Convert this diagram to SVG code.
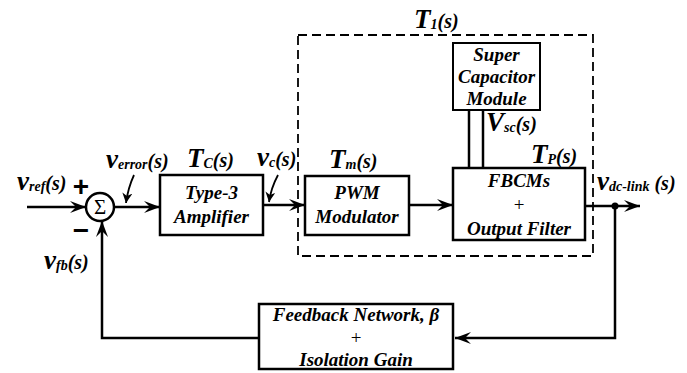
<svg xmlns="http://www.w3.org/2000/svg" width="687" height="373" viewBox="0 0 687 373" font-family="'Liberation Serif', 'DejaVu Serif', serif">
  <defs>
    <marker id="arrow" markerUnits="userSpaceOnUse" markerWidth="20" markerHeight="14" refX="16" refY="7" orient="auto">
      <path d="M0,1 L16,7 L0,13 L6,7 Z" fill="#000"/>
    </marker>
    <marker id="arrowSmall" markerUnits="userSpaceOnUse" markerWidth="12" markerHeight="10" refX="10" refY="5" orient="auto">
      <path d="M0,0 L10,5 L0,10 L3,5 Z" fill="#000"/>
    </marker>
  </defs>
  <style>
    .box { fill: #fff; stroke: #000; stroke-width: 2.5; }
    .thin { fill: #fff; stroke: #000; stroke-width: 2; }
    .wire { fill: none; stroke: #000; stroke-width: 2.5; }
    .dash { fill: none; stroke: #000; stroke-width: 1.8; stroke-dasharray: 9 5; }
    .t { font-family: 'Liberation Serif', 'DejaVu Serif', serif; font-weight: bold; font-style: italic; fill: #000; }
    .lbl { font-size: 19px; text-anchor: middle; }
    .big { font-size: 27px; }
    .sub { font-size: 14px; }
    .par { font-size: 20px; }
    .plain { font-style: normal; font-weight: normal; }
    .sign { font-family: 'Liberation Sans', 'DejaVu Sans', sans-serif; font-style: normal; font-weight: bold; font-size: 28px; text-anchor: middle; }
  </style>

  <!-- T1(s) boundary -->
  <g id="t1-boundary">
    <rect class="dash" x="298" y="35" width="295" height="221"/>
    <text class="t" x="414" y="28"><tspan class="big">T</tspan><tspan class="sub" dy="1">1</tspan><tspan class="par" dy="-1">(s)</tspan></text>
  </g>

  <!-- connectors -->
  <g id="connectors">
    <line class="wire" x1="27" y1="207" x2="86" y2="207" marker-end="url(#arrow)"/>
    <line class="wire" x1="114" y1="207" x2="160" y2="207" marker-end="url(#arrow)"/>
    <line class="wire" x1="263" y1="205" x2="305" y2="205" marker-end="url(#arrow)"/>
    <line class="wire" x1="409" y1="205" x2="453" y2="205" marker-end="url(#arrow)"/>
    <line class="wire" x1="585" y1="206" x2="640" y2="206" marker-end="url(#arrow)"/>
    <polyline class="wire" points="615,206 615,338 455,338" marker-end="url(#arrow)"/>
    <polyline class="wire" points="259,338 102,338 102,221" marker-end="url(#arrow)"/>
    <circle cx="615" cy="206" r="3.5" fill="#000"/>
    <!-- super capacitor bus -->
    <line class="wire" x1="469" y1="110" x2="469" y2="168"/>
    <line class="wire" x1="483" y1="110" x2="483" y2="168"/>
    <!-- signal pointers -->
    <path d="M134,175 Q128,188 126,203" fill="none" stroke="#000" stroke-width="1.8" marker-end="url(#arrowSmall)"/>
    <path d="M278,175 Q271,188 269,202" fill="none" stroke="#000" stroke-width="1.8" marker-end="url(#arrowSmall)"/>
  </g>

  <!-- summing junction -->
  <g id="sum">
    <circle cx="100" cy="207" r="14" fill="#fff" stroke="#000" stroke-width="2.5"/>
    <text class="t plain" x="100" y="214" font-size="21" text-anchor="middle">Σ</text>
    <text class="sign" x="81" y="196">+</text>
    <text class="sign" x="81" y="240" font-size="21">−</text>
  </g>

  <g id="type3-amplifier">
    <rect class="box" x="160" y="175" width="103" height="60"/>
    <text class="t lbl" x="211.5" y="199">Type-3</text>
    <text class="t lbl" x="211.5" y="223">Amplifier</text>
    <text class="t" x="187" y="167"><tspan class="big">T</tspan><tspan class="sub" dy="1">C</tspan><tspan class="par" dy="-1">(s)</tspan></text>
  </g>

  <g id="pwm-modulator">
    <rect class="box" x="305" y="176" width="104" height="59"/>
    <text class="t lbl" x="357" y="199">PWM</text>
    <text class="t lbl" x="357" y="223">Modulator</text>
    <text class="t" x="329" y="168"><tspan class="big">T</tspan><tspan class="sub" dy="1">m</tspan><tspan class="par" dy="-1">(s)</tspan></text>
  </g>

  <g id="super-capacitor">
    <rect class="thin" x="453" y="43" width="87" height="67"/>
    <text class="t lbl" x="496.5" y="61">Super</text>
    <text class="t lbl" x="496.5" y="83">Capacitor</text>
    <text class="t lbl" x="496.5" y="105">Module</text>
    <text class="t" x="486" y="131"><tspan class="big">V</tspan><tspan class="sub" dy="1">sc</tspan><tspan class="par" dy="-1">(s)</tspan></text>
  </g>

  <g id="fbcms-filter">
    <rect class="box" x="453" y="168" width="132" height="72"/>
    <text class="t lbl" x="519" y="187">FBCMs</text>
    <text class="t lbl plain" x="519" y="211">+</text>
    <text class="t lbl" x="519" y="235">Output Filter</text>
    <text class="t" x="531" y="163"><tspan class="big">T</tspan><tspan class="sub" dy="1">P</tspan><tspan class="par" dy="-1">(s)</tspan></text>
  </g>

  <g id="feedback-network">
    <rect class="box" x="259" y="304" width="194" height="65"/>
    <text class="t lbl" x="356" y="321">Feedback Network, β</text>
    <text class="t lbl plain" x="356" y="344">+</text>
    <text class="t lbl" x="356" y="366">Isolation Gain</text>
  </g>

  <!-- signal labels -->
  <g id="signals">
    <text class="t" x="17" y="190"><tspan class="big">v</tspan><tspan class="sub" dy="1">ref</tspan><tspan class="par" dy="-1">(s)</tspan></text>
    <text class="t" x="106" y="168"><tspan class="big">v</tspan><tspan class="sub" dy="1">error</tspan><tspan class="par" dy="-1">(s)</tspan></text>
    <text class="t" x="257" y="166"><tspan class="big">v</tspan><tspan class="sub" dy="1">c</tspan><tspan class="par" dy="-1">(s)</tspan></text>
    <text class="t" x="44" y="269"><tspan class="big">v</tspan><tspan class="sub" dy="1">fb</tspan><tspan class="par" dy="-1">(s)</tspan></text>
    <text class="t" x="597" y="190"><tspan class="big">v</tspan><tspan class="sub" dy="1">dc-link</tspan><tspan class="par" dy="-1"> (s)</tspan></text>
  </g>
</svg>
